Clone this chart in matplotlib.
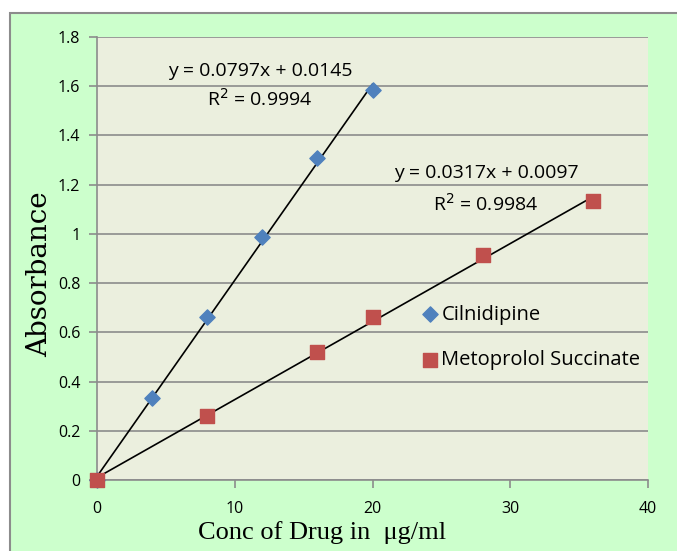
import numpy as np
import matplotlib
matplotlib.use('Agg')
import matplotlib.pyplot as plt
from matplotlib.patches import Rectangle

# calibration data
cil_conc = [0, 4, 8, 12, 16, 20]
cil_abs = [0.0, 0.334, 0.662, 0.987, 1.308, 1.585]
met_conc = [0, 8, 16, 20, 28, 36]
met_abs = [0.0, 0.26, 0.52, 0.663, 0.915, 1.133]

# trendline coefficients shown on the chart
cil_fit = (0.0797, 0.0145)
met_fit = (0.0317, 0.0097)
cil_label = 'y = 0.0797x + 0.0145\nR$^2$ = 0.9994'
met_label = 'y = 0.0317x + 0.0097\nR$^2$ = 0.9984'

fig = plt.figure(figsize=(6.77, 5.51), dpi=100, facecolor='white')
# outer chart frame
fig.patches.append(Rectangle((10 / 677, -0.05), 1.0, 1 - 13 / 551 + 0.05,
                             transform=fig.transFigure, facecolor='#CCFFCC',
                             edgecolor='#8c8c8c', linewidth=1.5, zorder=-10))

ax = fig.add_axes([97 / 677, 1 - 480 / 551, (648 - 97) / 677, (480 - 37) / 551])
ax.set_facecolor('#EBEFDE')

ax.set_xlim(0, 40)
ax.set_ylim(0, 1.8)
ax.set_xticks([0, 10, 20, 30, 40])
ax.set_yticks(np.arange(0, 1.81, 0.2))
ax.set_yticklabels(['0', '0.2', '0.4', '0.6', '0.8', '1', '1.2', '1.4', '1.6', '1.8'])
ax.yaxis.grid(True, color='#8c8c8c', linewidth=1.2)
ax.set_axisbelow(True)
for s in ['top', 'right']:
    ax.spines[s].set_visible(False)
for s in ['left', 'bottom']:
    ax.spines[s].set_color('#8c8c8c')
    ax.spines[s].set_linewidth(1.2)
ax.tick_params(direction='out', color='#8c8c8c', length=6, width=1.2,
               labelsize=11.5, labelcolor='black')
for lab in ax.get_xticklabels() + ax.get_yticklabels():
    lab.set_family('Open Sans')
ax.tick_params(axis='x', pad=9)
ax.tick_params(axis='y', pad=6)

# trendlines from 0 to max concentration
xs = np.array([0, max(cil_conc)])
ax.plot(xs, cil_fit[0] * xs + cil_fit[1], color='black', linewidth=1.2, zorder=2)
xs = np.array([0, max(met_conc)])
ax.plot(xs, met_fit[0] * xs + met_fit[1], color='black', linewidth=1.2, zorder=2)

ax.scatter(cil_conc, cil_abs, marker='D', s=60, color='#4F81BD', label='Cilnidipine',
           zorder=3, clip_on=False)
ax.scatter(met_conc, met_abs, marker='s', s=115, color='#C0504D',
           label='Metoprolol Succinate', zorder=3, clip_on=False)

ax.text(11.83, 1.600, cil_label, ha='center', va='center', fontsize=14,
        family='Open Sans', linespacing=1.45)
ax.text(28.24, 1.180, met_label, ha='center', va='center', fontsize=14,
        family='Open Sans', linespacing=1.6)

ax.legend(loc='center left', bbox_to_anchor=(0.572, 0.322), frameon=False,
          prop={'family': 'Open Sans', 'size': 14.5}, handletextpad=0.05,
          labelspacing=1.25, handlelength=1.0, scatterpoints=1, borderaxespad=0)

ax.set_xlabel('Conc of Drug in  \u03bcg/ml', family='Liberation Serif', fontsize=19)
ax.xaxis.set_label_coords(0.408, -0.093)
ax.set_ylabel('Absorbance', family='DejaVu Serif', fontsize=20)
ax.yaxis.set_label_coords(-0.080, 0.465)

fig.savefig('out.png', dpi=100, facecolor=fig.get_facecolor())
